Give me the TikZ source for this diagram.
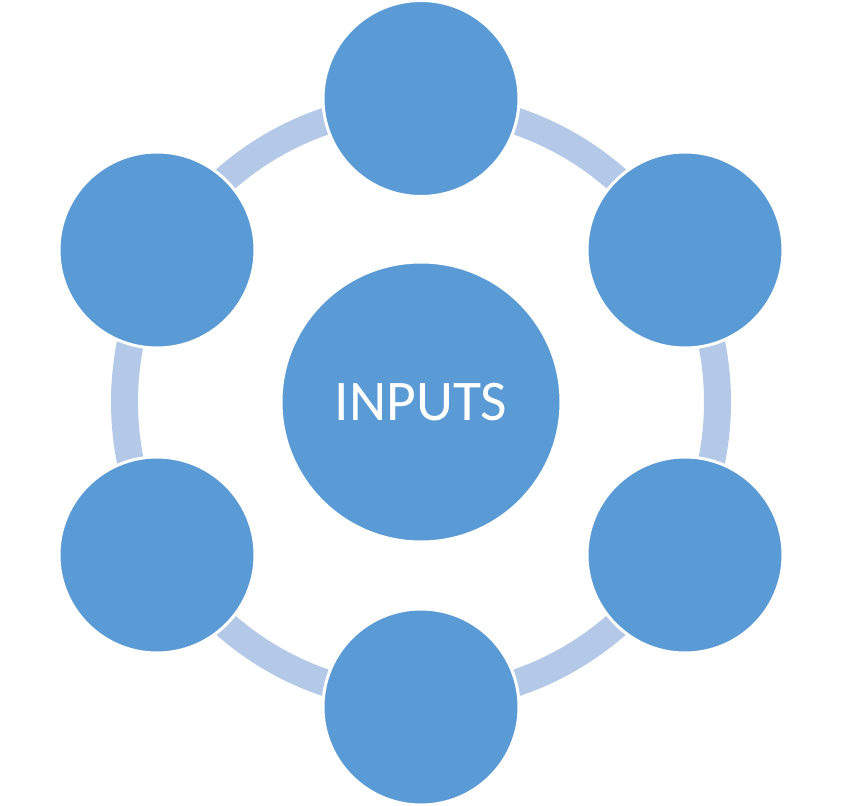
\documentclass[tikz,border=0pt]{standalone}
\usepackage{fontspec}
\setmainfont{Carlito}
\definecolor{cfill}{HTML}{5B9BD5}
\definecolor{ring}{HTML}{B4C9E8}
\begin{document}
\begin{tikzpicture}[x=1pt,y=-1pt,
  outer/.style={circle,fill=cfill,draw=white,line width=3pt,minimum size=196pt,inner sep=0pt},
  center/.style={circle,fill=cfill,draw=white,line width=3pt,minimum size=280pt,inner sep=0pt,text=white,font=\fontsize{57.5}{60}\selectfont}]
\useasboundingbox (0,0) rectangle (844,806);
\coordinate (c) at (421,402);
\draw[ring,line width=27pt] (c) circle[radius=296.5pt];
\node[outer] (n1) at (421,98.5) {};
\node[outer] (n2) at (685,250) {};
\node[outer] (n3) at (685,555) {};
\node[outer] (n4) at (421,707) {};
\node[outer] (n5) at (157,555) {};
\node[outer] (n6) at (157,250) {};
\node[center] (in) at (c) {INPUTS};
\end{tikzpicture}
\end{document}
